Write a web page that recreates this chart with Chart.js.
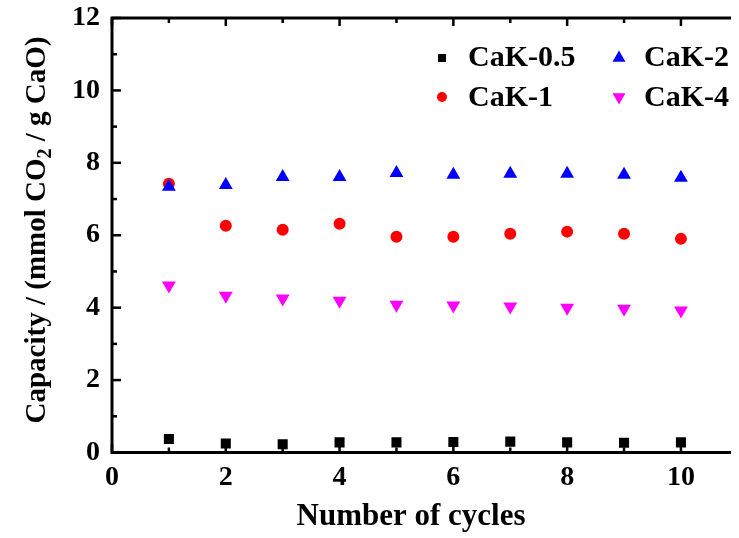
<!DOCTYPE html>
<html>
<head>
<meta charset="utf-8">
<script src="https://cdn.jsdelivr.net/npm/chart.js@4.4.0/dist/chart.umd.min.js"></script>
<style>
  html, body { margin: 0; padding: 0; background: #fff; }
  .chart-wrapper { width: 739px; height: 538px; position: relative; }
</style>
</head>
<body>
<div class="chart-wrapper">
  <canvas id="chart"></canvas>
</div>
<script>
// cycle numbers and CO2 capacities
const cycles = [1, 2, 3, 4, 5, 6, 7, 8, 9, 10];
const cak05 = [0.37, 0.25, 0.23, 0.28, 0.28, 0.29, 0.30, 0.28, 0.27, 0.28];
const cak1 = [7.42, 6.26, 6.15, 6.32, 5.96, 5.96, 6.04, 6.10, 6.04, 5.90];
const cak2 = [7.34, 7.39, 7.61, 7.61, 7.72, 7.67, 7.70, 7.70, 7.67, 7.59];
const cak4 = [4.61, 4.33, 4.25, 4.19, 4.08, 4.06, 4.03, 4.00, 3.97, 3.92];

const xTicks = [0, 2, 4, 6, 8, 10];
const yTicks = [0, 2, 4, 6, 8, 10, 12];

const FONT = "'Liberation Serif', 'Times New Roman', serif";

const toPoints = vals => vals.map((v, i) => ({ x: cycles[i], y: v }));

// legend grid: two columns, two rows
const legendItems = [
  { ds: 0, col: 0, row: 0 },
  { ds: 1, col: 1, row: 0 },
  { ds: 2, col: 0, row: 1 },
  { ds: 3, col: 1, row: 1 }
];

const framePlugin = {
  id: 'frame',
  afterDraw(chart) {
    const ctx = chart.ctx;
    const a = chart.chartArea;
    const xs = chart.scales.x;
    const ys = chart.scales.y;
    ctx.save();
    ctx.strokeStyle = '#000';
    ctx.lineCap = 'butt';

    // inward ticks
    ctx.lineWidth = 2.5;
    for (let v = 0; v <= 10; v++) {
      const px = xs.getPixelForValue(v);
      const len = v % 2 === 0 ? 8 : 5;
      ctx.beginPath();
      ctx.moveTo(px, a.bottom); ctx.lineTo(px, a.bottom - len);
      ctx.moveTo(px, a.top); ctx.lineTo(px, a.top + len);
      ctx.stroke();
    }
    for (let v = 0; v <= 12; v++) {
      const py = ys.getPixelForValue(v);
      const len = v % 2 === 0 ? 9 : 5;
      ctx.beginPath();
      ctx.moveTo(a.left, py); ctx.lineTo(a.left + len, py);
      ctx.stroke();
    }

    // spines
    ctx.lineWidth = 3;
    ctx.beginPath();
    ctx.moveTo(a.left, a.top - 1.5); ctx.lineTo(a.left, a.bottom + 1.5);
    ctx.moveTo(a.left - 1.5, a.bottom); ctx.lineTo(a.right, a.bottom);
    ctx.moveTo(a.left - 1.5, a.top); ctx.lineTo(a.right, a.top);
    ctx.stroke();

    // axis titles
    ctx.fillStyle = '#000';
    ctx.font = 'bold 31px ' + FONT;
    ctx.textAlign = 'center';
    ctx.textBaseline = 'alphabetic';
    ctx.fillText('Number of cycles', 411, 525);

    ctx.translate(45, 230);
    ctx.rotate(-Math.PI / 2);
    const big = 'bold 29px ' + FONT;
    const small = 'bold 20px ' + FONT;
    const parts = [
      { t: 'Capacity / (mmol CO', f: big, dy: 0 },
      { t: '2', f: small, dy: 6 },
      { t: ' / g CaO)', f: big, dy: 0 }
    ];
    let total = 0;
    parts.forEach(p => { ctx.font = p.f; p.w = ctx.measureText(p.t).width; total += p.w; });
    let cx = -total / 2;
    ctx.textAlign = 'left';
    parts.forEach(p => {
      ctx.font = p.f;
      ctx.fillText(p.t, cx, p.dy);
      cx += p.w;
    });
    ctx.restore();

    // legend
    ctx.save();
    const colX = [442, 619];
    const textX = [468, 644];
    const rowY = [58, 97];
    const rowBase = [66, 106];
    ctx.font = 'bold 30px ' + FONT;
    ctx.textAlign = 'left';
    ctx.textBaseline = 'alphabetic';
    legendItems.forEach(it => {
      const ds = chart.data.datasets[it.ds];
      ctx.fillStyle = ds.backgroundColor;
      ctx.strokeStyle = ds.backgroundColor;
      Chart.helpers.drawPoint(ctx, {
        pointStyle: ds.pointStyle,
        radius: ds.legendRadius,
        rotation: ds.rotation || 0,
        borderWidth: 0
      }, colX[it.col], rowY[it.row]);
      ctx.fillStyle = '#000';
      ctx.fillText(ds.label, textX[it.col], rowBase[it.row]);
    });
    ctx.restore();
  }
};

const ctx = document.getElementById('chart').getContext('2d');
new Chart(ctx, {
  type: 'scatter',
  data: {
    datasets: [
      { label: 'CaK-0.5', data: toPoints(cak05), pointStyle: 'rect', pointRadius: 7.1,
        backgroundColor: '#000000', borderColor: '#000000', legendRadius: 5.7 },
      { label: 'CaK-2', data: toPoints(cak2), pointStyle: 'triangle', pointRadius: 8,
        backgroundColor: '#0000ff', borderColor: '#0000ff', legendRadius: 7.5 },
      { label: 'CaK-1', data: toPoints(cak1), pointStyle: 'circle', pointRadius: 6,
        backgroundColor: '#ff0000', borderColor: '#ff0000', legendRadius: 5 },
      { label: 'CaK-4', data: toPoints(cak4), pointStyle: 'triangle', pointRadius: 8, rotation: 180,
        backgroundColor: '#ff00ff', borderColor: '#ff00ff', legendRadius: 7.5 }
    ]
  },
  options: {
    responsive: true,
    maintainAspectRatio: false,
    animation: false,
    layout: { padding: { top: 18, right: 0, left: 0, bottom: 0 } },
    elements: { point: { borderWidth: 0, hoverRadius: 0 } },
    plugins: {
      legend: { display: false },
      tooltip: { enabled: false }
    },
    scales: {
      x: {
        type: 'linear',
        min: 0,
        max: 10.88,
        grid: { display: false, drawTicks: false },
        border: { display: false },
        afterBuildTicks: scale => { scale.ticks = xTicks.map(v => ({ value: v })); },
        afterFit: scale => { scale.height = 85.5; scale.paddingLeft = 0; scale.paddingRight = 0; },
        ticks: {
          color: '#000',
          padding: 8,
          maxRotation: 0,
          font: { family: FONT, size: 28, weight: 'bold' }
        }
      },
      y: {
        type: 'linear',
        min: 0,
        max: 12,
        grid: { display: false, drawTicks: false },
        border: { display: false },
        afterBuildTicks: scale => { scale.ticks = yTicks.map(v => ({ value: v })); },
        afterFit: scale => { scale.width = 112; scale.paddingTop = 0; scale.paddingBottom = 0; },
        ticks: {
          color: '#000',
          padding: 12,
          font: { family: FONT, size: 28, weight: 'bold' }
        }
      }
    }
  },
  plugins: [framePlugin]
});
</script>
</body>
</html>
